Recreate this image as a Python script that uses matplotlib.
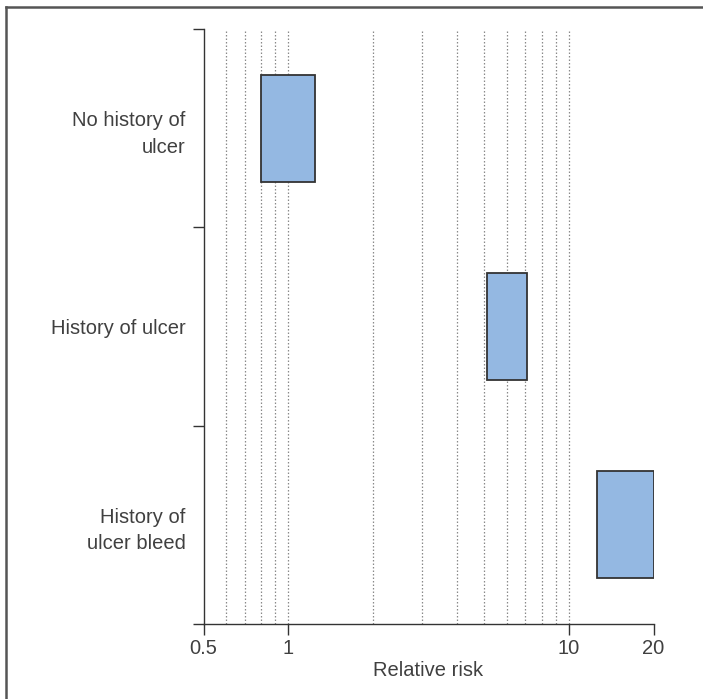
import matplotlib.pyplot as plt
from matplotlib.lines import Line2D

# relative risk ranges for each group (low, high), top to bottom
groups = ["No history of\nulcer", "History of ulcer", "History of\nulcer bleed"]
rr_low = [0.8, 5.1, 12.6]
rr_high = [1.25, 7.1, 20]

xticks = [0.5, 1, 10, 20]
xticklabels = ["0.5", "1", "10", "20"]
gridx = [0.6, 0.7, 0.8, 0.9, 1, 2, 3, 4, 5, 6, 7, 8, 9, 10]

plt.rcParams['font.family'] = ['Liberation Sans', 'DejaVu Sans']
txt = '#404040'
dark = '#333333'

fig = plt.figure(figsize=(7.03, 6.99), dpi=100)
ax = fig.add_axes([203.5 / 703, 75 / 699, 450 / 703, 595 / 699])

ax.set_xscale('log')
ax.set_xlim(0.5, 20)
ax.set_ylim(0, 3)

ax.vlines(gridx, 0, 3, colors='#8a8a8a', linestyles=(0, (1.2, 1.6)), linewidth=0.9, zorder=1)

ypos = [2.5, 1.5, 0.5]
widths = [h - l for l, h in zip(rr_low, rr_high)]
ax.barh(ypos, widths, left=rr_low, height=0.54, color='#94b8e2',
        edgecolor=dark, linewidth=1.3, zorder=3)

for s in ['top', 'right']:
    ax.spines[s].set_visible(False)
for s in ['left', 'bottom']:
    ax.spines[s].set_color(dark)
    ax.spines[s].set_linewidth(1.0)

ax.set_xticks(xticks)
ax.set_xticklabels(xticklabels)
ax.minorticks_off()
ax.tick_params(axis='x', which='major', direction='out', length=8, width=1.0,
               color=dark, labelsize=14.5, labelcolor=txt, pad=3)

ax.set_yticks([0, 1, 2, 3])
ax.set_yticklabels([])
ax.set_yticks(ypos, minor=True)
ax.set_yticklabels(groups, minor=True, linespacing=1.5)
ax.tick_params(axis='y', which='major', direction='out', length=8, width=1.0, color=dark)
ax.tick_params(axis='y', which='minor', length=0, labelsize=14.5, labelcolor=txt, pad=13)

ax.set_xlabel("Relative risk", fontsize=14.5, color=txt, labelpad=2)

# outer frame (top and left edges)
fig.add_artist(Line2D([5.5 / 703, 5.5 / 703], [0, 1 - 6.5 / 699], transform=fig.transFigure,
                      color='#555555', linewidth=1.8))
fig.add_artist(Line2D([5.5 / 703, 1], [1 - 6.5 / 699, 1 - 6.5 / 699], transform=fig.transFigure,
                      color='#555555', linewidth=1.8))

fig.savefig("out.png", dpi=100)
